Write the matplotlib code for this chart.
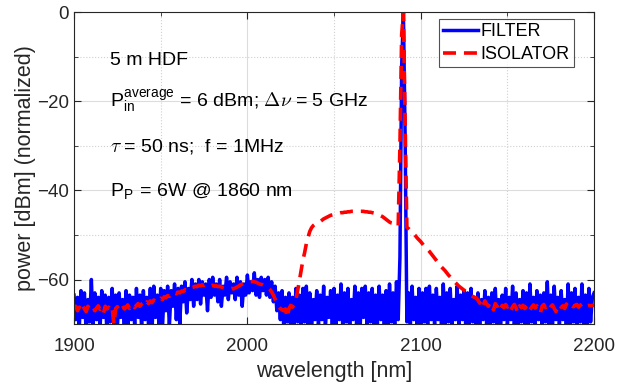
import numpy as np
import matplotlib
matplotlib.use('Agg')
import matplotlib.pyplot as plt
from matplotlib.ticker import MultipleLocator

plt.rcParams['font.family'] = ['Liberation Sans', 'DejaVu Sans']
plt.rcParams['mathtext.fontset'] = 'cm'

# wavelength grid [nm], one point per nm
wavelength = np.arange(1900, 2201)

# FILTER trace [dBm], rows of ten values (1900-1909, 1910-1919, ...)
filter_db = [
    -63.5, -69, -64, -71, -62.5, -68.5, -63, -72, -64.5, -69.5,
    -60, -70.5, -63, -69, -64, -71, -62.5, -68.5, -63.5, -72,
    -64, -69.5, -62, -70, -63.5, -71, -63, -68.5, -64.5, -70,
    -62.5, -71.5, -63.5, -69, -64, -70.5, -62, -68.5, -63.5, -71,
    -62.5, -69, -64, -70, -62, -71.5, -61.5, -68.5, -63.5, -70,
    -62, -71, -62.5, -67, -61.5, -70.5, -62.5, -66, -61, -69,
    -62, -70, -61.5, -65, -60.5, -67.5, -62, -64.5, -60, -66,
    -61, -64.5, -60, -65.5, -60.5, -63.5, -61, -67, -60, -64,
    -59.5, -63.5, -61, -65, -60, -66, -61.5, -63.5, -59.5, -64.5,
    -60.5, -63, -61, -64.5, -59.5, -63.5, -60.5, -66, -61, -63.5,
    -59, -63, -60.5, -62.5, -58.5, -63.5, -60, -64, -59.5, -62.5,
    -60, -63.5, -59.5, -64, -60.5, -65, -61.5, -67, -63, -69,
    -62.5, -71, -64, -69.5, -63, -71.5, -64, -70, -62, -69.5,
    -63.5, -71, -62, -69.5, -61.5, -70, -63, -71.5, -64.5, -69,
    -62.5, -70.5, -63.5, -69, -61.5, -71, -64, -68.5, -62.5, -70,
    -62, -71, -63.5, -69, -61, -70.5, -63, -69.5, -62, -71.5,
    -64.5, -69, -61.5, -70, -63, -71, -62, -68.5, -61.5, -70.5,
    -63, -69.5, -62, -71, -63.5, -70, -61.5, -69, -63.5, -71.5,
    -62.5, -70, -61, -69.5, -63, -71, -60.5, -69, -55, -12,
    0, -28, -69.5, -63, -70.5, -61.5, -69, -64, -71, -62,
    -70, -63, -69.5, -62, -71, -61.5, -69, -63.5, -70.5, -62,
    -69, -64, -71, -61, -70, -63, -69.5, -62, -71, -64.5,
    -69, -61.5, -70.5, -63.5, -69, -62.5, -71, -63, -70, -62,
    -69.5, -64, -70.5, -63, -71, -64.5, -69, -62.5, -70, -64,
    -71, -63, -69.5, -62, -70, -64.5, -71.5, -63.5, -69, -62,
    -70.5, -64, -69, -61.5, -71, -63, -70, -64.5, -69.5, -62.5,
    -70, -63, -71, -61, -69.5, -64, -70.5, -62.5, -69, -63.5,
    -71, -63, -69.5, -60.5, -70, -63.5, -71, -61.5, -69, -64,
    -70.5, -62.5, -69, -64.5, -71, -61, -70, -63, -69.5, -62,
    -71, -64, -69.5, -61, -70, -63.5, -71, -62, -69.5, -64,
    -63,
]

# ISOLATOR trace [dBm]
isolator_db = [
    -66.5, -66, -67, -66.2, -66.8, -65.8, -66.6, -67.2, -66, -66.5,
    -66.8, -66.2, -67, -66.4, -65.9, -66.7, -66.3, -67.5, -66, -66.6,
    -66.2, -66.9, -66.4, -70, -66.5, -66.1, -66.8, -66.3, -65.8, -66.6,
    -66.2, -65.7, -66.5, -66, -65.6, -66.3, -65.8, -65.4, -66, -65.5,
    -65.2, -65.8, -65, -65.4, -64.8, -65.2, -64.6, -64.9, -64.4, -64.6,
    -64.2, -64.5, -63.9, -64.1, -63.6, -63.8, -63.3, -63.5, -63, -63.2,
    -62.8, -63, -62.6, -62.7, -62.3, -62.4, -62, -62.1, -61.8, -61.7,
    -61.5, -61.6, -61.3, -61.4, -61.2, -61.3, -61.1, -61.3, -61.2, -61.4,
    -61.3, -61.5, -61.4, -61.6, -61.5, -61.7, -61.8, -61.9, -62, -62,
    -62.1, -62, -62.1, -61.9, -61.7, -61.5, -61.2, -61, -60.8, -60.7,
    -60.6, -60.5, -60.5, -60.4, -60.5, -60.6, -60.8, -61, -61.1, -61.2,
    -61.4, -61.5, -61.8, -62.2, -62.8, -63.5, -64.4, -65.3, -66, -66.5,
    -66.8, -67, -66.6, -68.5, -66.5, -65.8, -66.2, -65.5, -64.5, -62.5,
    -60.3, -58, -55.7, -54, -52, -50.5, -49.2, -48.4, -47.9, -47.6,
    -47.4, -47.2, -47, -46.7, -46.4, -46.2, -46, -45.8, -45.6, -45.5,
    -45.4, -45.3, -45.2, -45.1, -45, -45, -44.9, -44.9, -44.8, -44.8,
    -44.7, -44.7, -44.7, -44.7, -44.7, -44.7, -44.7, -44.7, -44.8, -44.8,
    -44.9, -44.9, -45, -45.1, -45.2, -45.3, -45.5, -45.7, -45.9, -46.2,
    -46.5, -46.8, -47.1, -47.3, -47.4, -47.5, -47.6, -48, -30, -5,
    0, -25, -48.3, -48.6, -49, -49.4, -49.8, -50.2, -50.7, -51.1,
    -51.5, -52, -52.5, -52.9, -53.3, -53.7, -54.2, -54.7, -55.2, -55.7,
    -56.2, -56.7, -57.2, -57.6, -58, -58.5, -59, -59.4, -59.8, -60.3,
    -60.7, -61.1, -61.5, -61.8, -62.1, -62.4, -62.7, -63, -63.3, -63.6,
    -63.8, -64, -64.1, -64.6, -65.3, -64.6, -65.8, -64.8, -65.5, -66,
    -65.2, -65.8, -66.8, -65.4, -66, -65.5, -66.6, -65.8, -66.3, -65.6,
    -66.2, -65.7, -66.9, -66.1, -65.6, -66.4, -67.4, -65.9, -66.3, -65.8,
    -66.5, -66, -65.6, -66.8, -66.2, -65.7, -66.4, -65.9, -66.6, -67.5,
    -66, -65.6, -66.3, -65.9, -66.7, -66.1, -65.7, -66.5, -67.2, -66,
    -65.6, -66.2, -65.9, -66.5, -65.5, -66, -66.3, -65.7, -66.1, -65.8,
    -65.6, -66.2, -65.8, -65.5, -66, -65.7, -65.9, -65.8, -65.9, -65.8,
    -65.8,
]

notes = [
    '5 m HDF',
    r'P$_{\mathregular{in}}^{\mathregular{average}}$ = 6 dBm; $\Delta\nu$ = 5 GHz',
    r'$\tau$ = 50 ns;  f = 1MHz',
    r'P$_{\mathregular{P}}$ = 6W @ 1860 nm',
]
note_y = [-10.8, -19.8, -30.2, -40.3]

txt = '#262626'

fig = plt.figure(figsize=(6.3, 3.9), dpi=100)
ax = fig.add_axes([0.1175, 0.169, 0.8255, 0.8])

ax.plot(wavelength, filter_db, color='#0000ff', lw=2.5, label='FILTER')
ax.plot(wavelength, isolator_db, color='#ff0000', lw=2.6, dashes=(3.6, 2.2),
        label='ISOLATOR')

ax.set_xlim(1900, 2200)
ax.set_ylim(-70, 0)
ax.xaxis.set_major_locator(MultipleLocator(100))
ax.xaxis.set_minor_locator(MultipleLocator(50))
ax.yaxis.set_major_locator(MultipleLocator(20))
ax.yaxis.set_minor_locator(MultipleLocator(10))
ax.grid(which='major', color='#dcdcdc', lw=0.8)
ax.grid(which='minor', color='#d0d0d0', lw=0.8, ls=':')
ax.set_axisbelow(True)
ax.tick_params(which='both', direction='in', top=True, right=True,
               colors=txt, labelsize=13.5)
ax.tick_params(which='major', length=5)
ax.tick_params(which='minor', length=3)
ax.tick_params(axis='x', which='major', pad=10)
for s in ax.spines.values():
    s.set_color(txt)
    s.set_linewidth(0.8)

ax.set_xlabel('wavelength [nm]', fontsize=15.5, color=txt, labelpad=4)
ax.set_ylabel('power [dBm] (normalized)', fontsize=15.5, color=txt, labelpad=1)

for s, yv in zip(notes, note_y):
    ax.text(1921, yv, s, fontsize=14, color='black', va='center')

leg = ax.legend(loc='upper right', bbox_to_anchor=(0.9615, 0.978),
                fontsize=13, frameon=True, fancybox=False,
                edgecolor='#262626', borderpad=0.25, handlelength=1.9,
                handletextpad=0.15, labelspacing=0.3, borderaxespad=0)
leg.get_frame().set_linewidth(0.8)

fig.savefig('out.png', dpi=100)
